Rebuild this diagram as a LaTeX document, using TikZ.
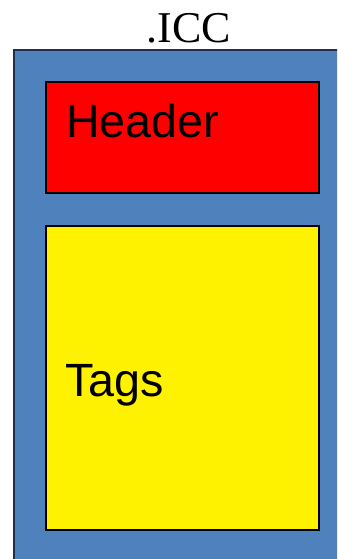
\documentclass[tikz,border=0pt]{standalone}
\usepackage{fontspec}
\setmainfont{Liberation Serif}
\setsansfont{Liberation Sans}
\definecolor{fileblue}{HTML}{4F81BD}
\definecolor{fileedge}{HTML}{1F2F4F}

\begin{document}
\begin{tikzpicture}[x=0.75pt,y=-0.75pt]
    \useasboundingbox (0,0) rectangle (337,559);
    \clip (0,0) rectangle (337,559);
%    \draw[gray!50, thin, step=50] (0,0) grid (337,559);

    % the file itself
    \draw[fill=fileblue,draw=fileedge,line width=1.5pt] (14,50) rectangle (360,580);
    \node[anchor=base,inner sep=0] (title) at (189,43) {\fontsize{33}{38}\selectfont .ICC};

    % header block
    \draw[fill=red,line width=1.5pt] (46,82) rectangle (319,193);
    \node[anchor=base west,inner sep=0] (header) at (66,138) {\sffamily\fontsize{35}{42}\selectfont Header};

    % tag table
    \draw[fill=yellow,line width=1.5pt] (46,226) rectangle (319,530);
    \node[anchor=base west,inner sep=0] (tags) at (65,396) {\sffamily\fontsize{35}{42}\selectfont Tags};

\end{tikzpicture}
\end{document}
